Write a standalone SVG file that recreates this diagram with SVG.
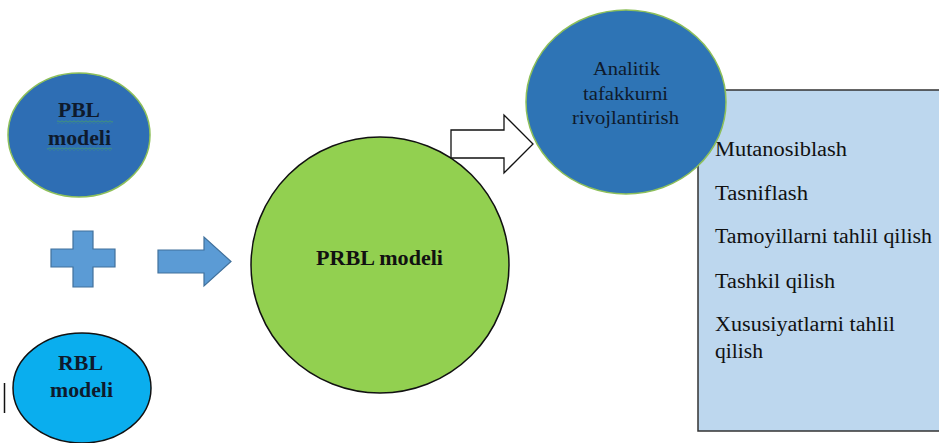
<svg xmlns="http://www.w3.org/2000/svg" width="939" height="443" viewBox="0 0 939 443">
<style>
.serif{font-family:"Liberation Serif","Times New Roman",serif;}
.b{font-weight:bold;}
.ctr{text-anchor:middle;}
.navy{fill:#0e1a2c;}
.blk{fill:#111111;}
.item{font-size:20px;fill:#111111;}
.arr{fill:#5B9BD5;stroke:#41719C;stroke-width:1.2;}
</style>
<defs>
<pattern id="sq" width="4" height="3" patternUnits="userSpaceOnUse">
<path d="M0,2.5 L2,0.5 L4,2.5" fill="none" stroke="#4CAF50" stroke-width="0.8"/>
</pattern>
</defs>
<rect width="939" height="443" fill="#ffffff"/>

<g id="pbl">
<ellipse cx="79" cy="135" rx="71" ry="62" fill="#2E6EB4" stroke="#8DBF5A" stroke-width="1.5"/>
<text class="serif b navy" x="58" y="117" font-size="20" textLength="42" lengthAdjust="spacingAndGlyphs">PBL</text>
<rect x="57" y="120.5" width="56" height="3" fill="url(#sq)"/>
<text class="serif b navy" x="48" y="145" font-size="20" textLength="63" lengthAdjust="spacingAndGlyphs">modeli</text>
<rect x="47" y="147.5" width="65" height="3" fill="url(#sq)"/>
</g>

<g id="plus">
<polygon class="arr" points="73,231 93,231 93,249 115,249 115,267 93,267 93,287 73,287 73,267 51,267 51,249 73,249"/>
</g>

<g id="rbl">
<ellipse cx="82" cy="388" rx="69" ry="55" fill="#0AAEEE" stroke="#111111" stroke-width="1.5"/>
<text class="serif b navy" x="58" y="370" font-size="20" textLength="45" lengthAdjust="spacingAndGlyphs">RBL</text>
<text class="serif b navy" x="50" y="397" font-size="20" textLength="63" lengthAdjust="spacingAndGlyphs">modeli</text>
</g>

<g id="cursor">
<line x1="4.5" y1="383" x2="4.5" y2="413" stroke="#111111" stroke-width="1.5"/>
</g>

<g id="prbl">
<ellipse cx="380" cy="265" rx="129" ry="128" fill="#92D050" stroke="#111111" stroke-width="1.5"/>
<text class="serif b blk" x="316" y="265" font-size="21" textLength="127" lengthAdjust="spacingAndGlyphs">PRBL modeli</text>
</g>

<g id="skills">
<rect x="698" y="90" width="260" height="341" fill="#BDD7EE" stroke="#333333" stroke-width="1.5"/>
<text class="serif item" x="715" y="156" textLength="132" lengthAdjust="spacingAndGlyphs">Mutanosiblash</text>
<text class="serif item" x="715" y="200" textLength="93" lengthAdjust="spacingAndGlyphs">Tasniflash</text>
<text class="serif item" x="715" y="243" textLength="217" lengthAdjust="spacingAndGlyphs">Tamoyillarni tahlil qilish</text>
<text class="serif item" x="715" y="288" textLength="120" lengthAdjust="spacingAndGlyphs">Tashkil qilish</text>
<text class="serif item" x="715" y="331" textLength="180" lengthAdjust="spacingAndGlyphs">Xususiyatlarni tahlil</text>
<text class="serif item" x="715" y="358" textLength="48" lengthAdjust="spacingAndGlyphs">qilish</text>
</g>

<g id="analitik">
<ellipse cx="626" cy="102" rx="100" ry="92" fill="#2E74B5" stroke="#8DBF5A" stroke-width="1.5"/>
<text class="serif navy" x="593" y="75" font-size="19" textLength="67" lengthAdjust="spacingAndGlyphs">Analitik</text>
<text class="serif navy" x="583" y="100" font-size="19" textLength="85" lengthAdjust="spacingAndGlyphs">tafakkurni</text>
<text class="serif navy" x="572" y="124" font-size="19" textLength="107" lengthAdjust="spacingAndGlyphs">rivojlantirish</text>
</g>

<g id="connectors">
<polygon class="arr" points="158,250 204,250 204,237 231,261.5 204,286 204,273 158,273"/>
<polygon points="451,130 504,130 504,115 533,144 504,173 504,158 451,158" fill="#ffffff" stroke="#111111" stroke-width="1.3"/>
</g>
</svg>
